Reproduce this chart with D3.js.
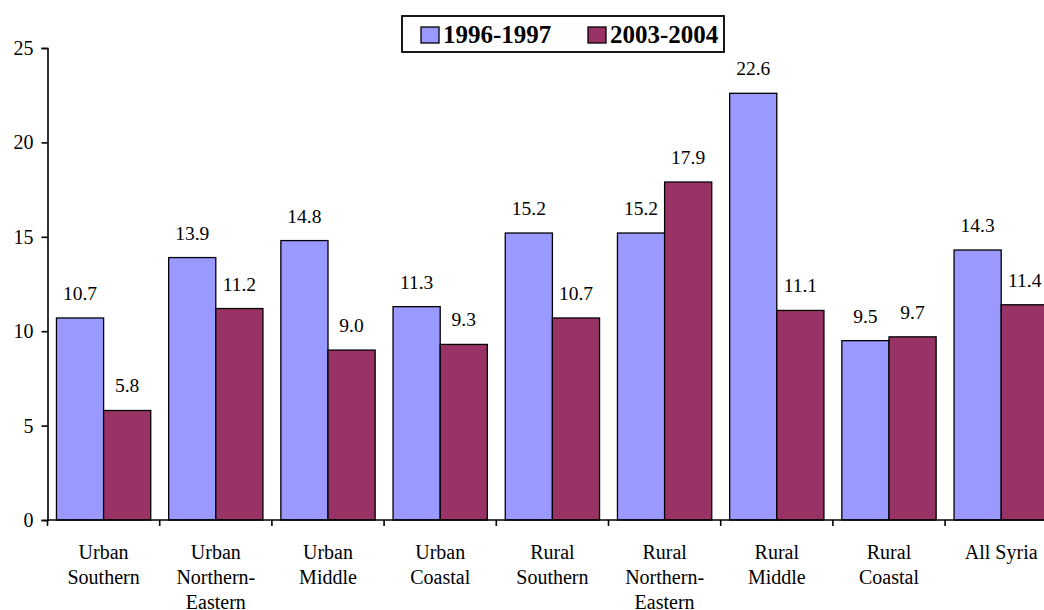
<!DOCTYPE html>
<html>
<head>
<meta charset="utf-8">
<script src="https://cdn.jsdelivr.net/npm/d3@7"></script>
<style>
  body { margin: 0; background: #fff; }
</style>
</head>
<body>
<svg id="chart" width="1044" height="610"></svg>
<script>
const categories = [
  "Urban\nSouthern", "Urban\nNorthern-\nEastern", "Urban\nMiddle", "Urban\nCoastal",
  "Rural\nSouthern", "Rural\nNorthern-\nEastern", "Rural\nMiddle", "Rural\nCoastal", "All Syria"
];
const seriesNames = ["1996-1997", "2003-2004"];
const values1996 = [10.7, 13.9, 14.8, 11.3, 15.2, 15.2, 22.6, 9.5, 14.3];
const values2003 = [5.8, 11.2, 9.0, 9.3, 10.7, 17.9, 11.1, 9.7, 11.4];
const yTicks = [0, 5, 10, 15, 20, 25];
const colors = ["#9999FF", "#993366"];
const FONT = "Liberation Serif";

const svg = d3.select("#chart");
const x0Left = 47.5, catW = 112.2;
const x0 = d3.scaleBand().domain(categories).range([x0Left, x0Left + catW * categories.length]).padding(0);
const x1 = d3.scaleBand().domain(seriesNames).range([0, x0.bandwidth()]).paddingInner(0).paddingOuter(0.19);
const y = d3.scaleLinear().domain([0, 25]).range([520, 48]);

const series = [values1996, values2003];

// bars
const groups = svg.append("g").selectAll("g")
  .data(categories).join("g")
  .attr("transform", d => `translate(${x0(d)},0)`);

groups.selectAll("rect")
  .data((d, i) => seriesNames.map((s, j) => ({ s, v: series[j][i], j })))
  .join("rect")
  .attr("x", d => x1(d.s))
  .attr("y", d => y(d.v))
  .attr("width", x1.bandwidth())
  .attr("height", d => y(0) - y(d.v))
  .attr("fill", d => colors[d.j])
  .attr("stroke", "#000")
  .attr("stroke-width", 1.3);

groups.selectAll("text.val")
  .data((d, i) => seriesNames.map((s, j) => ({ s, v: series[j][i], j })))
  .join("text")
  .attr("class", "val")
  .attr("x", d => x1(d.s) + x1.bandwidth() / 2)
  .attr("y", d => y(d.v) - 18)
  .attr("text-anchor", "middle")
  .attr("font-family", FONT).style("font-family", FONT)
  .attr("font-size", 19.5)
  .attr("fill", "#000")
  .text(d => d.v.toFixed(1));

// y axis
const yAxis = svg.append("g")
  .attr("transform", `translate(${x0Left},0)`)
  .call(d3.axisLeft(y).tickValues(yTicks).tickSize(6).tickPadding(8).tickFormat(d3.format("d")));
yAxis.attr("font-family", FONT);
yAxis.select(".domain").attr("stroke", "#000").attr("stroke-width", 1.6);
yAxis.selectAll(".tick line").attr("stroke", "#000").attr("stroke-width", 1.6);
yAxis.selectAll(".tick text")
  .attr("font-family", FONT).style("font-family", FONT)
  .attr("font-size", 20).attr("fill", "#000");

// x axis
const xEnd = x0Left + catW * categories.length;
svg.append("line")
  .attr("x1", x0Left).attr("x2", xEnd)
  .attr("y1", y(0)).attr("y2", y(0))
  .attr("stroke", "#000").attr("stroke-width", 1.6);
const bounds = categories.map(c => x0(c)).concat([xEnd]);
svg.append("g").selectAll("line").data(bounds).join("line")
  .attr("x1", d => d).attr("x2", d => d)
  .attr("y1", y(0)).attr("y2", y(0) + 6)
  .attr("stroke", "#000").attr("stroke-width", 1.6);

const labels = svg.append("g").selectAll("text").data(categories).join("text")
  .attr("text-anchor", "middle")
  .attr("font-family", FONT).style("font-family", FONT)
  .attr("font-size", 20)
  .attr("fill", "#000")
  .attr("transform", d => `translate(${x0(d) + x0.bandwidth() / 2},559)`);
labels.selectAll("tspan")
  .data(d => d.split("\n"))
  .join("tspan")
  .attr("x", 0)
  .attr("dy", (d, i) => i === 0 ? 0 : 25)
  .text(d => d);

// legend
const lg = svg.append("g");
lg.append("rect").attr("x", 402).attr("y", 16).attr("width", 322).attr("height", 36)
  .attr("fill", "#fff").attr("stroke", "#000").attr("stroke-width", 1.8);
const legendItems = [{ name: seriesNames[0], x: 421, c: colors[0] }, { name: seriesNames[1], x: 588, c: colors[1] }];
legendItems.forEach(it => {
  lg.append("rect").attr("x", it.x).attr("y", 27).attr("width", 18).attr("height", 16)
    .attr("fill", it.c).attr("stroke", "#000").attr("stroke-width", 1.3);
  lg.append("text").attr("x", it.x + 22).attr("y", 43)
    .attr("font-family", FONT).style("font-family", FONT)
    .attr("font-size", 25).attr("font-weight", "bold").attr("fill", "#000")
    .text(it.name);
});
</script>
</body>
</html>
